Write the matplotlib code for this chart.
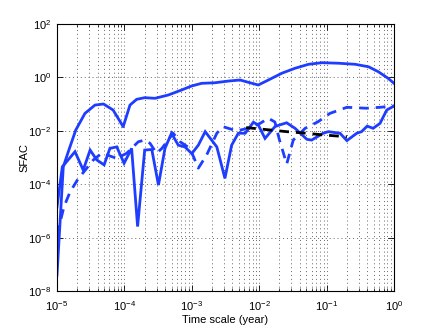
import matplotlib
matplotlib.use("Agg")
import matplotlib.pyplot as plt
from matplotlib.ticker import LogLocator, FixedLocator

plt.rcParams['font.family'] = ['Liberation Sans', 'DejaVu Sans']
plt.rcParams['mathtext.default'] = 'regular'

# Top solid curve
a_x = [1.0e-5, 1.24e-5, 1.5e-5, 1.9e-5, 2.6e-5, 3.66e-5, 4.9e-5, 6.8e-5, 9.6e-5, 1.21e-4,
       1.52e-4, 2.0e-4, 2.85e-4, 4.5e-4, 7.1e-4, 1.0e-3, 1.4e-3, 2.2e-3, 3.5e-3, 5.2e-3,
       7.3e-3, 9.7e-3, 1.37e-2, 2.16e-2, 3.4e-2, 5.4e-2, 8.5e-2, 0.149, 0.264, 0.42,
       0.585, 0.82, 1.0]
a_y = [4e-8, 4.5e-4, 1.9e-3, 1.07e-2, 4.5e-2, 9.2e-2, 0.101, 6.0e-2, 1.43e-2, 9.2e-2,
       0.151, 0.174, 0.165, 0.22, 0.34, 0.48, 0.60, 0.63, 0.73, 0.80,
       0.63, 0.52, 0.80, 1.43, 2.2, 3.1, 3.55, 3.4, 3.1, 2.5,
       1.63, 0.92, 0.60]

# Solid zigzag curve
b_x = [1.0e-5, 1.2e-5, 1.85e-5, 2.45e-5, 3.1e-5, 3.9e-5, 5.0e-5, 6.1e-5, 7.7e-5, 9.9e-5,
       1.28e-4, 1.57e-4, 2.0e-4, 2.55e-4, 3.2e-4, 4.0e-4, 5.0e-4, 6.3e-4, 7.9e-4, 1.0e-3,
       1.25e-3, 1.58e-3, 2.35e-3, 3.1e-3, 3.9e-3, 4.9e-3, 6.2e-3, 8.2e-3, 9.7e-3, 1.22e-2,
       1.71e-2, 2.0e-2, 2.55e-2, 3.4e-2, 5.1e-2, 6.0e-2, 8.9e-2, 0.106, 0.158, 0.2,
       0.28, 0.33, 0.40, 0.49, 0.62, 0.78, 1.0]
b_y = [1.4e-5, 4.5e-4, 1.65e-3, 3.4e-4, 1.9e-3, 8.1e-4, 5.3e-4, 2.2e-3, 2.5e-3, 6.1e-4,
       2.2e-3, 2.6e-6, 1.9e-3, 2.0e-3, 9.3e-5, 2.2e-3, 8.1e-3, 2.9e-3, 2.5e-3, 1.4e-3,
       2.9e-3, 9.3e-3, 2.5e-3, 1.66e-4, 2.9e-3, 8.1e-3, 8.1e-3, 2.1e-2, 1.65e-2, 5.2e-3,
       1.43e-2, 1.65e-2, 2.0e-2, 1.24e-2, 4.8e-3, 4.5e-3, 8.1e-3, 9.3e-3, 8.1e-3, 4.3e-3,
       8.1e-3, 9.3e-3, 1.5e-2, 1.24e-2, 1.9e-2, 6.0e-2, 8.5e-2]

# Blue dashed curve
c_x = [1.0e-5, 1.27e-5, 1.56e-5, 2.05e-5, 2.5e-5, 3.46e-5, 4.6e-5, 6.1e-5, 7.7e-5, 1.08e-4,
       1.61e-4, 2.0e-4, 2.4e-4, 3.0e-4, 3.6e-4, 5.3e-4, 6.7e-4, 9.4e-4, 1.25e-3, 1.66e-3,
       2.35e-3, 2.9e-3, 4.6e-3, 6.9e-3, 1.03e-2, 1.37e-2, 1.71e-2, 2.0e-2, 2.56e-2, 3.2e-2,
       4.8e-2, 7.5e-2, 0.112, 0.2, 0.39, 0.62, 1.0]
c_y = [1.26e-6, 1.44e-5, 5.1e-5, 1.57e-4, 2.9e-4, 8.1e-4, 1.44e-3, 1.14e-3, 9.3e-4, 1.44e-3,
       3.9e-3, 4.5e-3, 3.4e-3, 1.44e-3, 2.2e-3, 8.1e-3, 3.9e-3, 2.2e-3, 4.0e-4, 1.24e-3,
       8.1e-3, 1.43e-2, 1.0e-2, 1.24e-2, 1.9e-2, 2.95e-2, 2.14e-2, 4.5e-3, 5.7e-4, 4.5e-3,
       1.24e-2, 2.2e-2, 4.5e-2, 7.6e-2, 7.0e-2, 7.6e-2, 8.5e-2]

# Black dashed curve
d_x = [6.4e-3, 1.15e-2, 2.56e-2, 5.1e-2, 8.9e-2, 0.2]
d_y = [1.32e-2, 1.14e-2, 9.3e-3, 8.1e-3, 7.0e-3, 6.0e-3]

x_label = "Time scale (year)"
y_label = "SFAC"

blue = '#1f3dff'

fig = plt.figure(figsize=(4.36, 3.27), dpi=100)
ax = fig.add_axes([0.1307, 0.110, 0.7730, 0.8166])

ax.plot(a_x, a_y, color=blue, lw=2.0, solid_joinstyle='round')
ax.plot(b_x, b_y, color=blue, lw=2.0, solid_joinstyle='miter')
ax.plot(c_x, c_y, color=blue, lw=2.0, ls=(0, (3.5, 2.5)))
ax.plot(d_x, d_y, color='black', lw=2.0, ls=(0, (3.5, 2.5)))

ax.set_xscale('log')
ax.set_yscale('log')
ax.set_xlim(1e-5, 1)
ax.set_ylim(1e-8, 1e2)

ax.xaxis.set_major_locator(LogLocator(base=10, numticks=10))
ax.xaxis.set_minor_locator(LogLocator(base=10, subs=range(2, 10), numticks=20))
ax.yaxis.set_major_locator(FixedLocator([1e-8, 1e-6, 1e-4, 1e-2, 1e0, 1e2]))
ax.yaxis.set_minor_locator(FixedLocator([]))

ax.grid(True, which='major', axis='both', ls=(0, (1, 3)), color='#666666', lw=0.7)
ax.grid(True, which='minor', axis='x', ls=(0, (1, 3)), color='#666666', lw=0.7)

ax.tick_params(which='both', direction='in', top=True, right=True, labelsize=8)
ax.tick_params(axis='x', which='major', pad=6)
ax.tick_params(axis='y', which='major', pad=4)
ax.tick_params(which='major', length=4, width=0.6)
ax.tick_params(which='minor', length=2, width=0.5)
for s in ax.spines.values():
    s.set_linewidth(0.8)

ax.set_xlabel(x_label, fontsize=8, labelpad=1)
ax.set_ylabel(y_label, fontsize=8, labelpad=-1)

fig.savefig("out.png", dpi=100)
